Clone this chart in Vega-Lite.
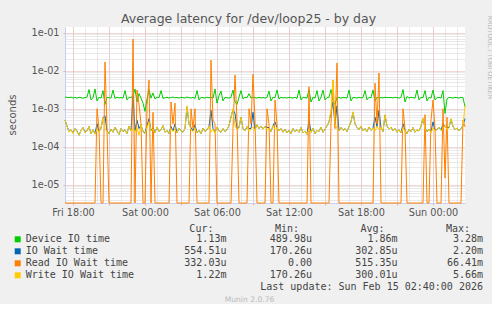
{
"$schema": "https://vega.github.io/schema/vega-lite/v6.json",
"background": "#f0f0f0",
"padding": {"left": 7, "top": 12, "right": 0, "bottom": 0},
"config": {"view": {"stroke": null}, "font": "DejaVu Sans"},
"title": {"text": "Munin 2.0.76", "orient": "bottom", "anchor": "middle", "fontSize": 7.6, "fontWeight": "normal", "color": "#bbbbbb", "font": "DejaVu Sans", "offset": 4},
"spacing": 6,
"vconcat": [
{
"width": 400, "height": 176,
"view": {"fill": "#ffffff", "stroke": null},
"title": {"text": "Average latency for /dev/loop25 - by day", "anchor": "middle", "frame": "group", "dx": -16.5, "offset": -20.4, "baseline": "alphabetic", "fontSize": 12.5, "fontWeight": "normal", "color": "#555555", "font": "DejaVu Sans"},
"data": {"values": [
{"m":1040,"d":2.05e-3,"i":5.0e-4,"r":0,"w":5.0e-4},
{"m":1050,"d":1.98e-3,"i":3.5e-4,"r":0,"w":3.5e-4},
{"m":1060,"d":1.95e-3,"i":2.5e-4,"r":0,"w":2.4e-4},
{"m":1070,"d":2.02e-3,"i":2.8e-4,"r":0,"w":2.8e-4},
{"m":1080,"d":1.92e-3,"i":2.3e-4,"r":0,"w":2.2e-4},
{"m":1090,"d":1.97e-3,"i":3.0e-4,"r":0,"w":3.0e-4},
{"m":1100,"d":1.90e-3,"i":2.6e-4,"r":0,"w":2.5e-4},
{"m":1110,"d":2.00e-3,"i":2.0e-4,"r":0,"w":2.0e-4},
{"m":1120,"d":1.95e-3,"i":2.7e-4,"r":0,"w":2.7e-4},
{"m":1130,"d":1.88e-3,"i":3.2e-4,"r":0,"w":3.2e-4},
{"m":1140,"d":1.96e-3,"i":2.4e-4,"r":0,"w":2.3e-4},
{"m":1150,"d":2.02e-3,"i":2.6e-4,"r":0,"w":2.6e-4},
{"m":1160,"d":3.2e-3,"i":3.4e-4,"r":0,"w":3.4e-4},
{"m":1170,"d":1.7e-3,"i":2.2e-4,"r":0,"w":2.2e-4},
{"m":1180,"d":1.95e-3,"i":2.8e-4,"r":0,"w":2.8e-4},
{"m":1190,"d":3.3e-3,"i":2.2e-4,"r":0,"w":2.1e-4},
{"m":1200,"d":1.6e-3,"i":4.0e-4,"r":1.0e-3,"w":2.9e-4},
{"m":1210,"d":2.0e-3,"i":2.5e-4,"r":3e-4,"w":2.4e-4},
{"m":1220,"d":1.9e-3,"i":3.1e-4,"r":0,"w":3.1e-4},
{"m":1230,"d":3.0e-3,"i":5.8e-4,"r":0,"w":5.8e-4},
{"m":1240,"d":1.3e-3,"i":6.5e-4,"r":1.7e-2,"w":3.0e-4},
{"m":1250,"d":2.0e-3,"i":2.6e-4,"r":3e-4,"w":2.5e-4},
{"m":1260,"d":1.95e-3,"i":2.2e-4,"r":0,"w":2.2e-4},
{"m":1270,"d":1.9e-3,"i":2.9e-4,"r":0,"w":2.9e-4},
{"m":1280,"d":3.1e-3,"i":2.4e-4,"r":0,"w":2.4e-4},
{"m":1290,"d":1.85e-3,"i":3.3e-4,"r":0,"w":3.3e-4},
{"m":1300,"d":2.0e-3,"i":2.6e-4,"r":0,"w":2.6e-4},
{"m":1310,"d":1.92e-3,"i":2.1e-4,"r":0,"w":2.1e-4},
{"m":1320,"d":1.97e-3,"i":3.0e-4,"r":0,"w":3.0e-4},
{"m":1330,"d":1.9e-3,"i":2.5e-4,"r":0,"w":2.5e-4},
{"m":1340,"d":3.0e-3,"i":2.8e-4,"r":0,"w":2.8e-4},
{"m":1350,"d":1.7e-3,"i":2.2e-4,"r":0,"w":2.2e-4},
{"m":1360,"d":2.0e-3,"i":3.5e-4,"r":0,"w":3.5e-4},
{"m":1370,"d":1.95e-3,"i":2.6e-4,"r":0,"w":2.6e-4},
{"m":1380,"d":2.2e-3,"i":2.2e-3,"r":6.8e-2,"w":3.0e-4},
{"m":1390,"d":3.3e-3,"i":2.6e-4,"r":0,"w":2.4e-4},
{"m":1400,"d":1.5e-3,"i":5.0e-4,"r":3.1e-3,"w":3.2e-4},
{"m":1410,"d":2.5e-3,"i":3.0e-4,"r":1.3e-3,"w":2.0e-4},
{"m":1420,"d":1.9e-3,"i":3.8e-4,"r":4e-4,"w":3.8e-4},
{"m":1430,"d":1.4e-3,"i":2.5e-4,"r":0,"w":2.5e-4},
{"m":1440,"d":8.5e-4,"i":2.3e-4,"r":0,"w":2.2e-4},
{"m":1450,"d":1.8e-3,"i":3.6e-4,"r":1.2e-3,"w":3.1e-4},
{"m":1460,"d":3.2e-3,"i":5.5e-4,"r":5.7e-3,"w":4.5e-4},
{"m":1470,"d":1.9e-3,"i":2.6e-4,"r":0,"w":2.6e-4},
{"m":1480,"d":2.6e-3,"i":3.2e-4,"r":8e-4,"w":2.9e-4},
{"m":1490,"d":1.8e-3,"i":2.3e-4,"r":0,"w":2.3e-4},
{"m":1500,"d":2.0e-3,"i":3.3e-4,"r":0,"w":3.3e-4},
{"m":1510,"d":1.95e-3,"i":2.5e-4,"r":0,"w":2.5e-4},
{"m":1520,"d":3.0e-3,"i":2.8e-4,"r":0,"w":2.8e-4},
{"m":1530,"d":1.85e-3,"i":3.6e-4,"r":0,"w":3.6e-4},
{"m":1540,"d":1.95e-3,"i":2.4e-4,"r":0,"w":2.4e-4},
{"m":1550,"d":2.0e-3,"i":2.7e-4,"r":0,"w":2.7e-4},
{"m":1560,"d":1.9e-3,"i":2.2e-4,"r":0,"w":2.2e-4},
{"m":1570,"d":1.97e-3,"i":3.4e-4,"r":1.5e-3,"w":3.0e-4},
{"m":1580,"d":2.02e-3,"i":2.6e-4,"r":4e-4,"w":2.5e-4},
{"m":1590,"d":1.93e-3,"i":4.0e-4,"r":1.4e-3,"w":2.9e-4},
{"m":1600,"d":1.98e-3,"i":2.3e-4,"r":0,"w":2.3e-4},
{"m":1610,"d":1.9e-3,"i":3.1e-4,"r":0,"w":3.1e-4},
{"m":1620,"d":2.0e-3,"i":2.6e-4,"r":0,"w":2.6e-4},
{"m":1630,"d":1.95e-3,"i":2.4e-4,"r":0,"w":2.4e-4},
{"m":1640,"d":1.92e-3,"i":3.0e-4,"r":0,"w":3.0e-4},
{"m":1650,"d":2.03e-3,"i":1.1e-3,"r":0,"w":1.2e-3},
{"m":1660,"d":1.96e-3,"i":4.0e-4,"r":0,"w":4.0e-4},
{"m":1670,"d":1.9e-3,"i":3.2e-4,"r":1.0e-3,"w":2.8e-4},
{"m":1680,"d":2.0e-3,"i":2.6e-4,"r":3e-4,"w":2.5e-4},
{"m":1690,"d":1.85e-3,"i":3.8e-4,"r":1.0e-3,"w":3.0e-4},
{"m":1700,"d":3.0e-3,"i":2.3e-4,"r":0,"w":2.3e-4},
{"m":1710,"d":1.7e-3,"i":2.7e-4,"r":0,"w":2.7e-4},
{"m":1720,"d":2.0e-3,"i":2.2e-4,"r":0,"w":2.2e-4},
{"m":1730,"d":1.95e-3,"i":3.1e-4,"r":0,"w":3.1e-4},
{"m":1740,"d":1.9e-3,"i":2.5e-4,"r":0,"w":2.5e-4},
{"m":1750,"d":2.0e-3,"i":2.8e-4,"r":0,"w":2.8e-4},
{"m":1760,"d":1.95e-3,"i":3.4e-4,"r":0,"w":3.4e-4},
{"m":1770,"d":1.98e-3,"i":9.0e-4,"r":1.9e-2,"w":2.4e-4},
{"m":1780,"d":1.9e-3,"i":3.0e-4,"r":5e-4,"w":2.9e-4},
{"m":1790,"d":3.3e-3,"i":2.4e-4,"r":4e-4,"w":2.2e-4},
{"m":1800,"d":1.4e-3,"i":3.3e-4,"r":0,"w":3.3e-4},
{"m":1810,"d":2.2e-3,"i":2.6e-4,"r":0,"w":2.6e-4},
{"m":1820,"d":2.9e-3,"i":2.4e-4,"r":0,"w":2.4e-4},
{"m":1830,"d":1.6e-3,"i":3.0e-4,"r":0,"w":3.0e-4},
{"m":1840,"d":2.0e-3,"i":2.5e-4,"r":0,"w":2.5e-4},
{"m":1850,"d":1.95e-3,"i":2.8e-4,"r":0,"w":2.8e-4},
{"m":1860,"d":1.9e-3,"i":3.6e-4,"r":0,"w":3.6e-4},
{"m":1870,"d":2.0e-3,"i":6.0e-4,"r":0,"w":6.0e-4},
{"m":1880,"d":3.1e-3,"i":9.5e-4,"r":3e-4,"w":1.0e-3},
{"m":1890,"d":1.5e-3,"i":7.5e-4,"r":7.7e-3,"w":3.5e-4},
{"m":1900,"d":1.3e-3,"i":3.0e-4,"r":5e-4,"w":2.8e-4},
{"m":1910,"d":2.0e-3,"i":3.2e-4,"r":0,"w":3.2e-4},
{"m":1920,"d":3.0e-3,"i":6.0e-4,"r":0,"w":6.0e-4},
{"m":1930,"d":1.8e-3,"i":3.0e-4,"r":0,"w":3.0e-4},
{"m":1940,"d":2.0e-3,"i":2.6e-4,"r":0,"w":2.6e-4},
{"m":1950,"d":1.95e-3,"i":3.4e-4,"r":0,"w":3.4e-4},
{"m":1960,"d":2.5e-3,"i":3.0e-4,"r":1.0e-3,"w":2.5e-4},
{"m":1970,"d":1.9e-3,"i":3.0e-4,"r":4e-4,"w":2.9e-4},
{"m":1980,"d":2.0e-3,"i":8.0e-4,"r":8.0e-3,"w":3.3e-4},
{"m":1990,"d":1.95e-3,"i":2.8e-4,"r":5e-4,"w":2.6e-4},
{"m":2000,"d":1.9e-3,"i":3.8e-4,"r":0,"w":3.8e-4},
{"m":2010,"d":2.0e-3,"i":3.0e-4,"r":0,"w":3.0e-4},
{"m":2020,"d":1.92e-3,"i":3.5e-4,"r":0,"w":3.5e-4},
{"m":2030,"d":1.97e-3,"i":2.9e-4,"r":0,"w":2.9e-4},
{"m":2040,"d":1.9e-3,"i":3.4e-4,"r":0,"w":3.4e-4},
{"m":2050,"d":2.0e-3,"i":3.2e-4,"r":1.0e-3,"w":2.7e-4},
{"m":2060,"d":2.9e-3,"i":3.2e-4,"r":4e-4,"w":3.1e-4},
{"m":2070,"d":1.6e-3,"i":2.5e-4,"r":0,"w":2.5e-4},
{"m":2080,"d":2.0e-3,"i":3.6e-4,"r":0,"w":3.6e-4},
{"m":2090,"d":1.95e-3,"i":4.5e-4,"r":1.7e-3,"w":2.8e-4},
{"m":2100,"d":3.1e-3,"i":3.2e-4,"r":4e-4,"w":3.2e-4},
{"m":2110,"d":1.8e-3,"i":2.6e-4,"r":0,"w":2.6e-4},
{"m":2120,"d":2.0e-3,"i":3.0e-4,"r":0,"w":3.0e-4},
{"m":2130,"d":1.92e-3,"i":2.4e-4,"r":0,"w":2.4e-4},
{"m":2140,"d":1.97e-3,"i":2.9e-4,"r":0,"w":2.9e-4},
{"m":2150,"d":1.9e-3,"i":2.3e-4,"r":0,"w":2.3e-4},
{"m":2160,"d":2.0e-3,"i":2.7e-4,"r":0,"w":2.7e-4},
{"m":2170,"d":1.95e-3,"i":2.2e-4,"r":0,"w":2.2e-4},
{"m":2180,"d":1.9e-3,"i":3.0e-4,"r":0,"w":3.0e-4},
{"m":2190,"d":2.0e-3,"i":2.5e-4,"r":0,"w":2.5e-4},
{"m":2200,"d":1.85e-3,"i":2.8e-4,"r":0,"w":2.8e-4},
{"m":2210,"d":3.1e-3,"i":2.4e-4,"r":0,"w":2.4e-4},
{"m":2220,"d":1.7e-3,"i":3.2e-4,"r":0,"w":3.2e-4},
{"m":2230,"d":2.0e-3,"i":2.3e-4,"r":0,"w":2.3e-4},
{"m":2240,"d":1.95e-3,"i":2.6e-4,"r":0,"w":2.6e-4},
{"m":2250,"d":1.9e-3,"i":2.1e-4,"r":0,"w":2.1e-4},
{"m":2260,"d":3.2e-3,"i":5.0e-4,"r":3.8e-3,"w":2.9e-4},
{"m":2270,"d":1.5e-3,"i":2.4e-4,"r":0,"w":2.4e-4},
{"m":2280,"d":2.0e-3,"i":3.1e-4,"r":0,"w":3.1e-4},
{"m":2290,"d":1.9e-3,"i":2.2e-4,"r":0,"w":2.2e-4},
{"m":2300,"d":3.0e-3,"i":2.7e-4,"r":0,"w":2.7e-4},
{"m":2310,"d":1.6e-3,"i":2.5e-4,"r":0,"w":2.5e-4},
{"m":2320,"d":2.0e-3,"i":3.3e-4,"r":0,"w":3.3e-4},
{"m":2330,"d":3.1e-3,"i":2.4e-4,"r":0,"w":2.4e-4},
{"m":2340,"d":1.7e-3,"i":2.9e-4,"r":0,"w":2.9e-4},
{"m":2350,"d":1.95e-3,"i":3.5e-4,"r":0,"w":3.5e-4},
{"m":2360,"d":2.0e-3,"i":4.5e-4,"r":0,"w":4.5e-4},
{"m":2370,"d":3.2e-3,"i":8.0e-4,"r":4e-4,"w":9.0e-4},
{"m":2380,"d":1.6e-3,"i":1.5e-3,"r":5.7e-3,"w":5.66e-3},
{"m":2390,"d":1.3e-3,"i":3.8e-4,"r":3e-4,"w":4.0e-4},
{"m":2400,"d":2.0e-3,"i":1.2e-3,"r":1.6e-2,"w":3.0e-4},
{"m":2410,"d":1.95e-3,"i":2.6e-4,"r":0,"w":2.6e-4},
{"m":2420,"d":1.9e-3,"i":3.2e-4,"r":0,"w":3.2e-4},
{"m":2430,"d":2.0e-3,"i":2.7e-4,"r":0,"w":2.7e-4},
{"m":2440,"d":1.95e-3,"i":3.0e-4,"r":0,"w":3.0e-4},
{"m":2450,"d":1.9e-3,"i":2.5e-4,"r":0,"w":2.5e-4},
{"m":2460,"d":3.1e-3,"i":3.4e-4,"r":0,"w":3.4e-4},
{"m":2470,"d":1.6e-3,"i":4.5e-4,"r":0,"w":4.5e-4},
{"m":2480,"d":2.0e-3,"i":8.0e-4,"r":0,"w":8.3e-4},
{"m":2490,"d":1.95e-3,"i":4.0e-4,"r":0,"w":4.0e-4},
{"m":2500,"d":1.9e-3,"i":3.2e-4,"r":0,"w":3.2e-4},
{"m":2510,"d":2.0e-3,"i":2.8e-4,"r":0,"w":2.8e-4},
{"m":2520,"d":1.92e-3,"i":3.5e-4,"r":0,"w":3.5e-4},
{"m":2530,"d":1.97e-3,"i":2.6e-4,"r":0,"w":2.6e-4},
{"m":2540,"d":3.0e-3,"i":3.0e-4,"r":0,"w":3.0e-4},
{"m":2550,"d":1.7e-3,"i":2.5e-4,"r":0,"w":2.5e-4},
{"m":2560,"d":2.0e-3,"i":3.3e-4,"r":0,"w":3.3e-4},
{"m":2570,"d":1.95e-3,"i":2.7e-4,"r":0,"w":2.7e-4},
{"m":2580,"d":3.1e-3,"i":3.1e-4,"r":0,"w":3.1e-4},
{"m":2590,"d":1.6e-3,"i":6.0e-4,"r":4.7e-3,"w":2.6e-4},
{"m":2600,"d":2.0e-3,"i":3.4e-4,"r":4e-4,"w":3.4e-4},
{"m":2610,"d":1.9e-3,"i":9.0e-4,"r":8.7e-3,"w":2.8e-4},
{"m":2620,"d":1.97e-3,"i":3.2e-4,"r":0,"w":3.2e-4},
{"m":2630,"d":1.93e-3,"i":2.5e-4,"r":0,"w":2.5e-4},
{"m":2640,"d":2.0e-3,"i":6.8e-4,"r":0,"w":7.0e-4},
{"m":2650,"d":1.97e-3,"i":3.5e-4,"r":0,"w":3.5e-4},
{"m":2660,"d":1.95e-3,"i":2.9e-4,"r":0,"w":2.9e-4},
{"m":2670,"d":1.98e-3,"i":3.3e-4,"r":0,"w":3.3e-4},
{"m":2680,"d":1.92e-3,"i":2.6e-4,"r":0,"w":2.6e-4},
{"m":2690,"d":2.0e-3,"i":3.0e-4,"r":0,"w":3.0e-4},
{"m":2700,"d":1.95e-3,"i":2.4e-4,"r":0,"w":2.4e-4},
{"m":2710,"d":1.9e-3,"i":2.8e-4,"r":0,"w":2.8e-4},
{"m":2720,"d":2.0e-3,"i":2.3e-4,"r":0,"w":2.3e-4},
{"m":2730,"d":3.2e-3,"i":4.0e-4,"r":1.0e-3,"w":3.1e-4},
{"m":2740,"d":1.5e-3,"i":2.7e-4,"r":3e-4,"w":2.6e-4},
{"m":2750,"d":2.1e-3,"i":2.2e-4,"r":0,"w":2.2e-4},
{"m":2760,"d":1.9e-3,"i":2.9e-4,"r":0,"w":2.9e-4},
{"m":2770,"d":2.0e-3,"i":2.5e-4,"r":0,"w":2.5e-4},
{"m":2780,"d":1.95e-3,"i":3.2e-4,"r":0,"w":3.2e-4},
{"m":2790,"d":1.9e-3,"i":2.4e-4,"r":0,"w":2.4e-4},
{"m":2800,"d":3.1e-3,"i":2.8e-4,"r":0,"w":2.8e-4},
{"m":2810,"d":1.7e-3,"i":2.6e-4,"r":0,"w":2.6e-4},
{"m":2820,"d":2.0e-3,"i":3.5e-4,"r":0,"w":3.5e-4},
{"m":2830,"d":1.95e-3,"i":5.5e-4,"r":0,"w":5.7e-4},
{"m":2840,"d":3.0e-3,"i":3.2e-4,"r":7e-4,"w":3.0e-4},
{"m":2850,"d":1.6e-3,"i":2.5e-4,"r":0,"w":2.5e-4},
{"m":2860,"d":2.0e-3,"i":2.9e-4,"r":0,"w":2.9e-4},
{"m":2870,"d":1.9e-3,"i":2.5e-4,"r":5e-4,"w":2.3e-4},
{"m":2880,"d":3.1e-3,"i":4.5e-4,"r":1.7e-3,"w":3.1e-4},
{"m":2890,"d":1.7e-3,"i":2.7e-4,"r":3e-4,"w":2.6e-4},
{"m":2900,"d":1.95e-3,"i":2.8e-4,"r":0,"w":2.8e-4},
{"m":2910,"d":2.0e-3,"i":3.3e-4,"r":0,"w":3.3e-4},
{"m":2920,"d":1.9e-3,"i":2.7e-4,"r":0,"w":2.7e-4},
{"m":2930,"d":3.0e-3,"i":4.0e-4,"r":1.0e-3,"w":3.0e-4},
{"m":2940,"d":7.5e-4,"i":3.4e-4,"r":1.5e-5,"w":3.6e-4},
{"m":2950,"d":1.8e-3,"i":3.2e-4,"r":6e-4,"w":2.8e-4},
{"m":2960,"d":2.0e-3,"i":3.2e-4,"r":0,"w":3.2e-4},
{"m":2970,"d":1.95e-3,"i":5.3e-4,"r":0,"w":5.5e-4},
{"m":2980,"d":1.9e-3,"i":3.4e-4,"r":0,"w":3.4e-4},
{"m":2990,"d":2.0e-3,"i":2.8e-4,"r":0,"w":2.8e-4},
{"m":3000,"d":1.95e-3,"i":3.1e-4,"r":0,"w":3.1e-4},
{"m":3010,"d":1.9e-3,"i":2.6e-4,"r":0,"w":2.6e-4},
{"m":3020,"d":2.0e-3,"i":3.0e-4,"r":0,"w":3.0e-4},
{"m":3030,"d":1.95e-3,"i":3.6e-4,"r":5e-4,"w":3.4e-4},
{"m":3040,"d":1.13e-3,"i":5.55e-4,"r":3.32e-4,"w":1.22e-3}
]},
"layer": [
{
"mark": {"type": "line", "strokeWidth": 1},
"encoding": {
"x": {"field": "m", "type": "quantitative", "scale": {"domain": [1040, 3040], "nice": false, "zero": false},
 "axis": {"orient": "bottom", "values": [1080,1140,1200,1260,1320,1380,1440,1500,1560,1620,1680,1740,1800,1860,1920,1980,2040,2100,2160,2220,2280,2340,2400,2460,2520,2580,2640,2700,2760,2820,2880,2940,3000], "grid": true, "gridColor": "#d4d4d4", "gridDash": [1,1], "labels": false, "ticks": false, "domain": false, "title": null}},
"y": {"field": "d", "type": "quantitative", "scale": {"type": "log", "domain": [3.3e-6, 0.1413], "clamp": true, "nice": false},
 "axis": {"orient": "left", "values": [4e-6,5e-6,6e-6,7e-6,8e-6,9e-6,2e-5,3e-5,4e-5,5e-5,6e-5,7e-5,8e-5,9e-5,2e-4,3e-4,4e-4,5e-4,6e-4,7e-4,8e-4,9e-4,2e-3,3e-3,4e-3,5e-3,6e-3,7e-3,8e-3,9e-3,2e-2,3e-2,4e-2,5e-2,6e-2,7e-2,8e-2,9e-2], "grid": true, "gridColor": "#d4d4d4", "gridDash": [1,1], "labels": false, "ticks": false, "domain": false, "title": null}},
"color": {"datum": "Device IO time", "type": "nominal",
 "scale": {"domain": ["Device IO time", "IO Wait time", "Read IO Wait time", "Write IO Wait time"], "range": ["#00cc00", "#0066b3", "#ff8000", "#ffcc00"]},
 "legend": {"orient": "none", "legendX": -52.3, "legendY": 207.3, "title": null, "direction": "vertical", "symbolType": "square", "symbolSize": 36, "symbolStrokeWidth": 0, "labelFont": "DejaVu Sans Mono", "labelFontSize": 10, "labelColor": "#444444", "labelOffset": 3, "rowPadding": 2, "padding": 0,
  "encode": {"symbols": {"update": {"fill": {"scale": "color", "field": "value"}, "fillOpacity": {"value": 1}, "stroke": {"value": "transparent"}}}}}}
}
},
{
"mark": {"type": "line", "strokeWidth": 1},
"encoding": {
"x": {"field": "m", "type": "quantitative", "scale": {"domain": [1040, 3040], "nice": false, "zero": false},
 "axis": {"orient": "bottom", "values": [1080,1260,1440,1620,1800,1980,2160,2340,2520,2700,2880], "grid": true, "gridColor": "#e8b0b0", "gridDash": [1,1], "labels": false, "ticks": true, "tickSize": 2, "tickColor": "#e8b0b0", "domain": false, "title": null}},
"y": {"field": "i", "type": "quantitative", "scale": {"type": "log", "domain": [3.3e-6, 0.1413], "clamp": true, "nice": false},
 "axis": {"orient": "left", "values": [1e-5,1e-4,1e-3,1e-2,1e-1], "grid": true, "gridColor": "#e8b0b0", "gridDash": [1,1], "ticks": true, "tickSize": 2, "tickColor": "#e8b0b0", "domain": true, "domainColor": "#c8cef2",
  "labelExpr": "'1e-0' + round(-log(datum.value)/LN10)", "labelFont": "DejaVu Sans", "labelFontSize": 9.7, "labelColor": "#555555", "labelPadding": 4, "labelBaseline": "middle",
  "title": "seconds", "titleFont": "DejaVu Sans", "titleFontSize": 10, "titleFontWeight": "normal", "titleColor": "#555555", "titleAngle": 270, "titleAlign": "center", "titleBaseline": "middle", "titleX": -53, "titleY": 87.5}},
"color": {"datum": "IO Wait time", "type": "nominal"}
}
},
{
"mark": {"type": "line", "strokeWidth": 1},
"encoding": {
"x": {"field": "m", "type": "quantitative", "scale": {"domain": [1040, 3040], "nice": false, "zero": false},
 "axis": {"orient": "bottom", "values": [1080,1440,1800,2160,2520,2880], "grid": false, "ticks": false, "domain": true, "domainColor": "#c8cef2",
  "labelExpr": "['Fri','Sat','Sun'][floor(datum.value/1440)] + ' ' + (datum.value % 1440 < 600 ? '0' : '') + (datum.value % 1440)/60 + ':00'",
  "labelFont": "DejaVu Sans", "labelFontSize": 9.7, "labelColor": "#555555", "labelPadding": 9, "labelBaseline": "middle", "labelFlush": false, "labelOverlap": false, "title": null}},
"y": {"field": "r", "type": "quantitative", "scale": {"type": "log", "domain": [3.3e-6, 0.1413], "clamp": true, "nice": false},
 "axis": {"orient": "right", "labels": false, "ticks": false, "domain": false, "grid": false,
  "title": "RRDTOOL / TOBI OETIKER", "titleFont": "DejaVu Sans", "titleFontSize": 6.5, "titleFontWeight": "normal", "titleColor": "#b8b8b8", "titleAngle": 90, "titleAlign": "left", "titleBaseline": "middle", "titleX": 24, "titleY": -12}},
"color": {"datum": "Read IO Wait time", "type": "nominal"}
}
},
{
"mark": {"type": "line", "strokeWidth": 1},
"encoding": {
"x": {"field": "m", "type": "quantitative", "scale": {"domain": [1040, 3040], "nice": false, "zero": false}, "axis": null},
"y": {"field": "w", "type": "quantitative", "scale": {"type": "log", "domain": [3.3e-6, 0.1413], "clamp": true, "nice": false}, "axis": null},
"color": {"datum": "Write IO Wait time", "type": "nominal"}
}
}
],
"resolve": {"axis": {"x": "independent", "y": "independent"}}
},
{
"width": 418, "height": 48,
"data": {"values": [
{"s":"Device IO time","c":"Cur","v":"1.13m"},
{"s":"Device IO time","c":"Min","v":"489.98u"},
{"s":"Device IO time","c":"Avg","v":"1.86m"},
{"s":"Device IO time","c":"Max","v":"3.28m"},
{"s":"IO Wait time","c":"Cur","v":"554.51u"},
{"s":"IO Wait time","c":"Min","v":"170.26u"},
{"s":"IO Wait time","c":"Avg","v":"302.85u"},
{"s":"IO Wait time","c":"Max","v":"2.20m"},
{"s":"Read IO Wait time","c":"Cur","v":"332.03u"},
{"s":"Read IO Wait time","c":"Min","v":"0.00\u00a0"},
{"s":"Read IO Wait time","c":"Avg","v":"515.35u"},
{"s":"Read IO Wait time","c":"Max","v":"66.41m"},
{"s":"Write IO Wait time","c":"Cur","v":"1.22m"},
{"s":"Write IO Wait time","c":"Min","v":"170.26u"},
{"s":"Write IO Wait time","c":"Avg","v":"300.01u"},
{"s":"Write IO Wait time","c":"Max","v":"5.66m"}
]},
"title": {"text": "Last update: Sun Feb 15 02:40:00 2026", "orient": "bottom", "anchor": "end", "font": "DejaVu Sans Mono", "fontSize": 10, "fontWeight": "normal", "color": "#444444", "baseline": "middle", "offset": 6},
"mark": {"type": "text", "font": "DejaVu Sans Mono", "fontSize": 10, "align": "right", "baseline": "middle", "color": "#444444"},
"encoding": {
"x": {"field": "c", "type": "nominal", "scale": {"type": "point", "domain": ["Cur", "Min", "Avg", "Max"], "padding": 0.944, "align": 1},
 "axis": {"orient": "top", "title": null, "domain": false, "ticks": false, "tickSize": 0, "grid": false, "labelAngle": 0, "labelExpr": "datum.label + ':'", "labelFont": "DejaVu Sans Mono", "labelFontSize": 10, "labelColor": "#444444", "labelAlign": "right", "labelBaseline": "middle", "labelPadding": 5, "labelOffset": -13.5}},
"y": {"field": "s", "type": "nominal", "scale": {"type": "band", "domain": ["Device IO time", "IO Wait time", "Read IO Wait time", "Write IO Wait time"], "paddingInner": 0, "paddingOuter": 0}, "axis": null},
"text": {"field": "v", "type": "nominal"}
}
}
]
}
